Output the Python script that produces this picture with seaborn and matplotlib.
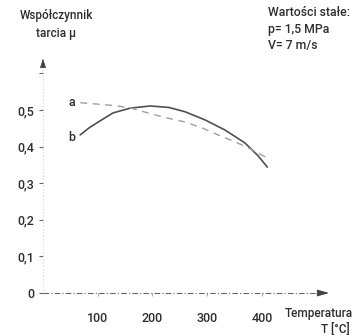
import matplotlib
matplotlib.use("Agg")
import matplotlib.pyplot as plt
import seaborn as sns
import pandas as pd

# ---- data ----
temp_a = [68, 100, 130, 159, 196, 228, 260, 291, 320, 351, 380, 400, 411]
mu_a = [0.52, 0.516, 0.512, 0.506, 0.49, 0.478, 0.467, 0.451, 0.432, 0.413, 0.393, 0.377, 0.368]
temp_b = [68, 85, 104, 128, 159, 196, 230, 260, 296, 333, 369, 393, 410]
mu_b = [0.432, 0.452, 0.47, 0.492, 0.505, 0.511, 0.507, 0.495, 0.473, 0.445, 0.41, 0.375, 0.344]
y_ticks = [0, 0.1, 0.2, 0.3, 0.4, 0.5]
y_labels = ["0", "0,1", "0,2", "0,3", "0,4", "0,5"]
x_ticks = [100, 200, 300, 400]
x_labels = ["100", "200", "300", "400"]

sns.set_style("white")
plt.rcParams["font.family"] = ["Roboto", "DejaVu Sans"]
FW = "medium"

df = pd.concat([
    pd.DataFrame({"T": temp_a, "mu": mu_a, "s": "a"}),
    pd.DataFrame({"T": temp_b, "mu": mu_b, "s": "b"}),
])

W, H = 355, 335
fig = plt.figure(figsize=(W / 100, H / 100), dpi=100)
ax = fig.add_axes([43 / W, (H - 293) / H, 290 / W, 0.66 * 366 / H])
ax.set_xlim(0, 530)
ax.set_ylim(0, 0.66)

sns.lineplot(data=df[df.s == "b"], x="T", y="mu", ax=ax, color="#505050", lw=1.2, legend=False)
sns.lineplot(data=df[df.s == "a"], x="T", y="mu", ax=ax, color="#a0a0a0", lw=1.0,
             linestyle=(0, (5, 4)), legend=False)

for s in ax.spines.values():
    s.set_visible(False)
ax.set_xlabel("")
ax.set_ylabel("")

# axes lines with arrow heads
ax.plot([0, 0], [0, 0.64], color="#d0d0d0", lw=0.8, linestyle=(0, (1, 2)), clip_on=False)
ax.annotate("", xy=(0, 0.648), xytext=(0, 0.625), xycoords="data",
            arrowprops=dict(arrowstyle="-|>,head_length=0.55,head_width=0.18",
                            color="#444444", lw=0.6))
ax.plot([0, 515], [0, 0], color="#666666", lw=0.8, linestyle=(0, (5, 2, 1, 2)), clip_on=False)
ax.annotate("", xy=(528, 0), xytext=(505, 0), xycoords="data",
            arrowprops=dict(arrowstyle="-|>,head_length=0.7,head_width=0.2",
                            color="#444444", lw=0.8))

ax.set_yticks(y_ticks + [0.6])
ax.set_yticklabels(y_labels + [""])
ax.set_xticks(x_ticks)
ax.set_xticklabels(x_labels)
ax.tick_params(axis="y", direction="out", length=3, width=0.8, color="#666666",
               pad=3, labelsize=9, labelcolor="#2e2e2e", left=True)
ax.tick_params(axis="x", direction="out", length=2, width=0.8, color="#aaaaaa",
               pad=12, labelsize=9, labelcolor="#2e2e2e", bottom=True)
for lab in ax.get_xticklabels() + ax.get_yticklabels():
    lab.set_fontweight(FW)
ax.get_yticklines()[-2].set_color("#bbbbbb")

ax.text(53, 0.52, "a", fontsize=9, color="#2e2e2e", ha="center", va="center", fontweight=FW)
ax.text(53, 0.424, "b", fontsize=9, color="#2e2e2e", ha="center", va="center", fontweight=FW)

def fx(x):
    return x / W

def fy(y):
    return 1 - y / H

tc = "#2e2e2e"
kw = dict(color=tc, va="center", fontweight=FW)
fig.text(fx(56), fy(15), "Współczynnik", ha="center", fontsize=8.5, **kw)
fig.text(fx(56), fy(33), "tarcia μ", ha="center", fontsize=8.5, **kw)
fig.text(fx(268), fy(12), "Wartości stałe:", ha="left", fontsize=8.8, **kw)
fig.text(fx(268), fy(29), "p= 1,5 MPa", ha="left", fontsize=8.8, **kw)
fig.text(fx(268), fy(45), "V= 7 m/s", ha="left", fontsize=8.8, **kw)
fig.text(fx(353), fy(314), "Temperatura", ha="right", fontsize=8.5, **kw)
fig.text(fx(350), fy(329), "T [°C]", ha="right", fontsize=8.5, **kw)

fig.savefig("out.png", dpi=100, facecolor="white")
